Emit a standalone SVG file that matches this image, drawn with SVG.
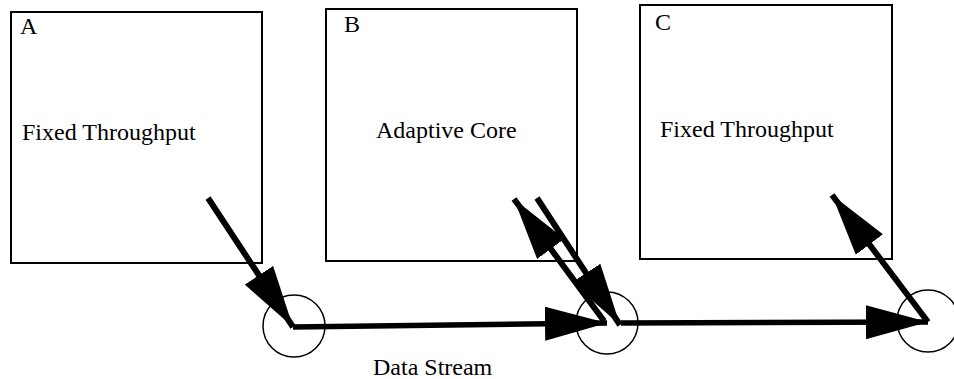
<svg xmlns="http://www.w3.org/2000/svg" width="954" height="379" viewBox="0 0 954 379">
<style>
.box{fill:none;stroke:#000;stroke-width:2}
.lbl{font-family:"Liberation Serif","Times New Roman",serif;font-size:24px;fill:#000}
.sh{fill:none;stroke:#000;stroke-width:6}
.hs{fill:none;stroke:#000;stroke-width:5.5}
.node{fill:none;stroke:#000;stroke-width:1.5}
</style>
<defs>
<marker id="ah" markerUnits="userSpaceOnUse" viewBox="0 0 62 34" refX="62" refY="17" markerWidth="62" markerHeight="34" orient="auto">
<path d="M0,0 L62,17 L0,34 Z" fill="#000"/>
</marker>
</defs>
<g id="boxA"><rect class="box" x="11" y="12" width="251" height="251"/><text class="lbl" x="20" y="34">A</text><text class="lbl" x="22" y="140">Fixed Throughput</text></g>
<g id="boxB"><rect class="box" x="326" y="9" width="251" height="252"/><text class="lbl" x="344" y="32">B</text><text class="lbl" x="376" y="138">Adaptive Core</text></g>
<g id="boxC"><rect class="box" x="640" y="5" width="252" height="254"/><text class="lbl" x="655" y="30">C</text><text class="lbl" x="660" y="137">Fixed Throughput</text></g>
<g id="nodeA"><circle class="node" cx="294" cy="326" r="31"/></g>
<g id="nodeB"><circle class="node" cx="607" cy="323" r="31"/></g>
<g id="nodeC"><circle class="node" cx="928" cy="321" r="31"/></g>
<g id="connectors">
<line class="sh" x1="208" y1="198" x2="293" y2="327" marker-end="url(#ah)"/>
<line class="hs" x1="293" y1="327" x2="607" y2="323" marker-end="url(#ah)"/>
<line class="sh" x1="604" y1="321" x2="514" y2="199" marker-end="url(#ah)"/>
<line class="sh" x1="537" y1="198" x2="620" y2="325" marker-end="url(#ah)"/>
<line class="hs" x1="621" y1="323" x2="928" y2="322" marker-end="url(#ah)"/>
<line class="sh" x1="928" y1="322" x2="832" y2="195" marker-end="url(#ah)"/>
</g>
<text class="lbl" x="373" y="375">Data Stream</text>
</svg>
